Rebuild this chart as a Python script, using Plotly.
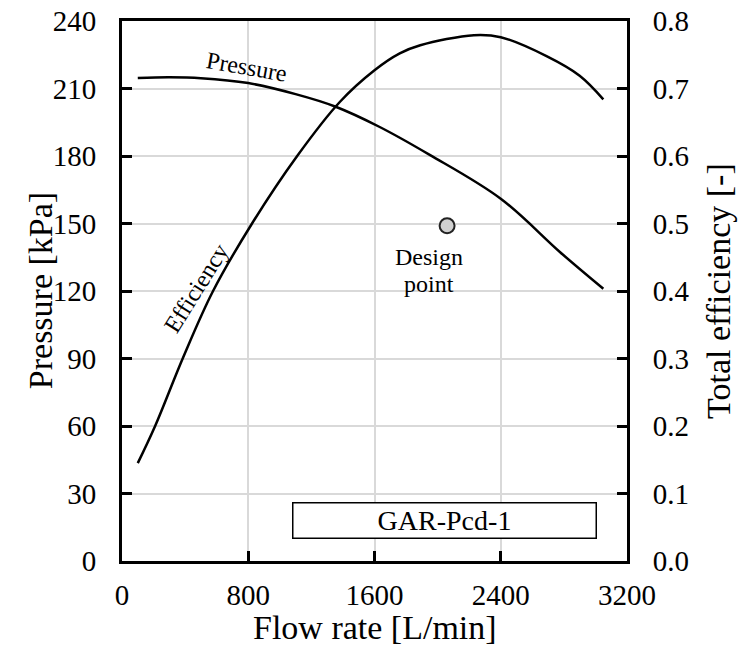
import plotly.graph_objects as go

# data
flow_p = [100, 300, 500, 800, 1100, 1350, 1630, 1950, 2400, 2780, 3050]
pressure = [214.7, 215, 214.6, 212.4, 207.5, 202, 193, 180.5, 161, 137, 121]

flow_e = [100, 210, 390, 577, 824, 1110, 1380, 1600, 1760, 1890, 2230, 2400, 2690, 2900, 3050]
efficiency = [0.145, 0.2, 0.303, 0.4, 0.5, 0.6, 0.68, 0.727, 0.752, 0.764, 0.779, 0.776, 0.748, 0.719, 0.684]

design_flow = [2060]
design_pressure = [149]

font = "Times New Roman, Liberation Serif, serif"
black = 'black'

fig = go.Figure()

fig.add_trace(go.Scatter(x=flow_p, y=pressure, mode='lines',
                         line=dict(color=black, width=2.5, shape='spline', smoothing=1),
                         showlegend=False))
fig.add_trace(go.Scatter(x=flow_e, y=efficiency, mode='lines', yaxis='y2',
                         line=dict(color=black, width=2.5, shape='spline', smoothing=1),
                         showlegend=False))
fig.add_trace(go.Scatter(x=design_flow, y=design_pressure, mode='markers',
                         marker=dict(size=15, color='#d0d0d0',
                                     line=dict(color='#222', width=2)),
                         showlegend=False))

# curve labels
fig.add_annotation(x=790, y=219.5, text="Pressure", textangle=10, showarrow=False,
                   font=dict(family=font, size=24, color=black))
fig.add_annotation(x=470, y=0.405, yref='y2', text="Efficiency", textangle=-58,
                   showarrow=False, font=dict(family=font, size=24, color=black))
fig.add_annotation(x=1945, y=135, text="Design", showarrow=False,
                   font=dict(family=font, size=24, color=black))
fig.add_annotation(x=1945, y=123, text="point", showarrow=False,
                   font=dict(family=font, size=24, color=black))

# model name box
fig.add_annotation(x=2044, y=17.8, text="GAR-Pcd-1", showarrow=False,
                   width=300, height=32, bordercolor=black, borderwidth=1.5,
                   bgcolor='white', font=dict(family=font, size=28, color=black))

# axis titles
title_font = dict(family=font, size=34, color=black)
fig.add_annotation(x=0.5, y=-0.124, xref='paper', yref='paper', text="Flow rate [L/min]",
                   xanchor='center', yanchor='middle', showarrow=False, font=title_font)
fig.add_annotation(x=-0.162, y=0.5, xref='paper', yref='paper', text="Pressure [kPa]",
                   xanchor='center', yanchor='middle', textangle=-90, showarrow=False,
                   font=title_font)
fig.add_annotation(x=1.18, y=0.5, xref='paper', yref='paper', text="Total efficiency [-]",
                   xanchor='center', yanchor='middle', textangle=-90, showarrow=False,
                   font=title_font)

axis_common = dict(showline=True, linecolor=black, linewidth=3,
                   ticks='inside', ticklen=10, tickwidth=3, tickcolor=black,
                   showgrid=True, gridcolor='#d9d9d9', gridwidth=2,
                   zeroline=False, automargin=False, ticklabeloverflow='allow',
                   tickfont=dict(family=font, size=29, color=black))

# page body has an 8px margin, so the figure is a little smaller than the window
fig.update_layout(
    width=745, height=646,
    margin=dict(l=114, r=126, t=13, b=93),
    plot_bgcolor='white', paper_bgcolor='white',
    xaxis=dict(range=[0, 3200], dtick=800, mirror=True, ticklabelstandoff=6, **axis_common),
    yaxis=dict(range=[0, 240], dtick=30, ticklabelstandoff=17, **axis_common),
    yaxis2=dict(range=[0, 0.8], dtick=0.1, tickformat='.1f', overlaying='y', side='right',
                ticklabelstandoff=17, **axis_common),
)

fig.write_html("out.html")
